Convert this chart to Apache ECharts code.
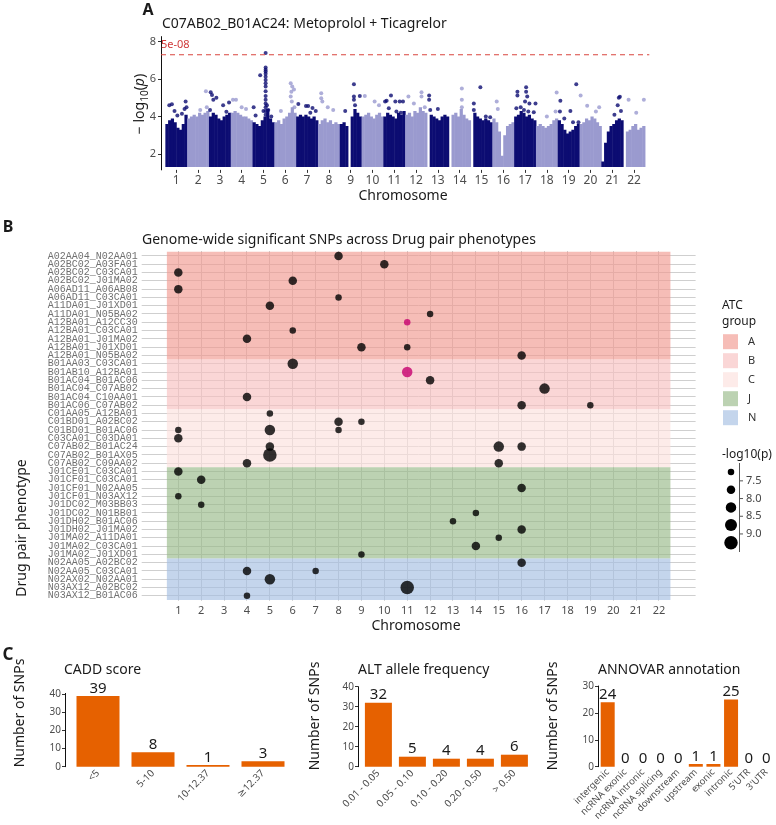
<!DOCTYPE html>
<html><head><meta charset="utf-8">
<script src="https://cdn.jsdelivr.net/npm/echarts@6/dist/echarts.min.js"></script>
<style>html,body{margin:0;padding:0;background:#fff}#c{width:776px;height:825px}</style>
</head><body><div id="c"></div>
<script>
// ================= DATA =================
// ---- Panel A: Manhattan plot (C07AB02_B01AC24) ----
const chromosomes = ['1','2','3','4','5','6','7','8','9','10','11','12','13','14','15','16','17','18','19','20','21','22'];
// top of the dense point cloud (-log10 p), 8 slices per chromosome (null = gap)
const manhattanEnvelope = [
 [3.6,3.8,3.9,3.7,3.4,3.3,3.6,4.1],
 [3.9,4.0,4.1,4.0,4.2,4.1,4.2,4.3],
 [4.0,4.2,4.1,3.9,3.8,4.0,4.1,4.2],
 [4.2,4.3,4.2,4.1,4.0,4.0,3.9,3.8],
 [3.7,3.6,3.5,3.8,4.0,4.4,3.9,3.7],
 [3.7,3.8,3.6,3.9,4.0,4.2,4.5,4.2],
 [4.0,4.1,4.0,4.1,4.0,3.9,4.0,3.8],
 [3.6,3.8,3.9,3.7,3.8,3.6,3.7,3.6],
 [3.6,3.7,3.5,null,4.0,4.4,4.2,4.0],
 [4.0,4.1,4.2,4.0,3.9,4.1,4.2,4.0],
 [4.0,4.2,4.1,4.0,3.9,4.2,4.1,4.3],
 [4.1,4.2,4.0,4.3,4.2,4.5,4.3,4.2],
 [null,4.1,4.0,3.9,3.8,4.0,4.1,4.0],
 [null,4.1,4.2,4.0,4.4,4.1,3.9,3.8],
 [null,4.2,4.0,3.9,3.8,3.9,3.8,3.7],
 [3.9,3.7,3.2,1.9,3.0,3.5,3.6,3.7],
 [4.0,4.1,4.3,4.2,4.0,4.1,3.9,3.8],
 [3.5,3.6,3.5,3.4,3.5,3.6,3.8,3.9],
 [3.8,3.6,3.3,3.1,3.2,3.3,3.5,3.6],
 [3.6,3.7,3.9,3.8,4.0,3.9,3.7,3.5],
 [1.6,2.6,3.2,3.5,3.6,3.8,3.9,3.8],
 [null,3.2,3.3,3.5,3.6,3.3,3.4,3.5]
];
// individual SNPs above the cloud: [chromosome, relative position, -log10 p]
const manhattanPeaks = [
 [1,0.18,4.6],[1,0.30,4.65],[1,0.42,4.3],[1,0.55,4.05],[1,0.76,4.15],[1,0.88,4.4],[1,0.93,4.8],[1,0.97,4.5],
 [2,0.6,4.35],[2,0.86,5.35],[2,0.9,4.5],
 [3,0.08,5.3],[3,0.14,5.15],[3,0.2,4.9],[3,0.34,5.0],[3,0.05,4.35],[3,0.65,4.6],[3,0.8,4.25],[3,0.92,4.75],
 [4,0.1,4.9],[4,0.24,4.9],[4,0.5,4.5],[4,0.7,4.4],
 [5,0.05,4.5],[5,0.14,4.05],[5,0.35,6.2],[5,0.5,4.3],
 [5,0.6,7.4],[5,0.6,6.62],[5,0.6,6.5],[5,0.6,6.4],[5,0.6,6.28],[5,0.6,6.12],[5,0.6,5.95],[5,0.6,5.78],[5,0.6,5.6],[5,0.6,5.35],[5,0.6,5.1],[5,0.6,4.9],[5,0.6,4.7],[5,0.6,4.5],[5,0.6,4.3],[5,0.6,4.1],
 [5,0.66,4.6],[5,0.72,4.35],[5,0.86,4.0],
 [6,0.75,5.78],[6,0.82,5.6],[6,0.9,5.45],[6,0.78,5.33],[6,0.75,5.07],[6,0.8,4.8],[6,0.92,4.5],[6,0.3,4.3],
 [7,0.1,4.67],[7,0.45,4.56],[7,0.55,4.56],[7,0.75,4.45],[7,0.65,4.2],[7,0.9,4.3],
 [8,0.15,5.24],[8,0.15,4.98],[8,0.2,4.8],[8,0.45,4.5],[8,0.7,4.35],
 [9,0.25,4.3],[9,0.65,5.72],[9,0.65,5.07],[9,0.65,4.9],[9,0.92,5.1],[9,0.7,4.6],
 [10,0.15,5.1],[10,0.6,4.8],[10,0.8,4.6],
 [11,0.15,4.84],[11,0.08,4.8],[11,0.35,5.12],[11,0.55,4.8],[11,0.75,4.8],[11,0.9,4.8],[11,0.25,4.44],[11,0.6,4.27],[11,0.8,4.2],
 [12,0.15,5.07],[12,0.75,5.3],[12,0.75,5.07],[12,0.9,4.5],[12,0.4,4.7],
 [13,0.1,5.12],[13,0.1,4.9],[13,0.15,4.35],[13,0.5,4.4],
 [14,0.6,5.5],[14,0.6,4.9],[14,0.6,4.5],
 [15,0.45,5.56],[15,0.15,4.7],[15,0.15,4.35],[15,0.7,4.0],[15,0.9,3.96],
 [16,0.2,4.8],[16,0.25,4.4],
 [17,0.15,5.33],[17,0.55,5.56],[17,0.55,5.33],[17,0.15,5.12],[17,0.6,5.07],[17,0.5,4.8],[17,0.3,4.5],[17,0.1,4.44],[17,0.7,4.7],[17,0.65,4.27],[17,0.45,4.35],[17,0.9,4.23],[17,0.98,4.7],
 [18,0.95,5.28],[18,0.9,4.27],[18,0.5,4.0],
 [19,0.12,4.85],[19,0.1,4.27],[19,0.3,3.9],[19,0.58,4.3],[19,0.85,5.72],[19,0.7,3.7],[19,0.95,3.7],
 [20,0.05,5.12],[20,0.35,4.57],[20,0.75,4.27],[20,0.9,4.5],
 [21,0.85,5.06],[21,0.8,5.0],[21,0.75,4.6],[21,0.6,4.1],[21,0.9,4.3],
 [22,0.25,4.9],[22,0.95,4.9],[22,0.6,4.2]
];
const manhattanBase = 1.3;          // -log10(0.05)
const gwThreshold = 7.3;            // -log10(5e-08)
const gwThresholdLabel = '5e-08';
const manhattanTitle = 'C07AB02_B01AC24: Metoprolol + Ticagrelor';
const manhattanYTicks = [2,4,6,8];

// ---- Panel B: genome-wide significant SNPs ----
const phenotypes = [
 'A02AA04_N02AA01','A02BC02_A03FA01','A02BC02_C03CA01','A02BC02_J01MA02','A06AD11_A06AB08','A06AD11_C03CA01',
 'A11DA01_J01XD01','A11DA01_N05BA02','A12BA01_A12CC30','A12BA01_C03CA01','A12BA01_J01MA02','A12BA01_J01XD01',
 'A12BA01_N05BA02','B01AA03_C03CA01','B01AB10_A12BA01','B01AC04_B01AC06','B01AC04_C07AB02','B01AC04_C10AA01',
 'B01AC06_C07AB02','C01AA05_A12BA01','C01BD01_A02BC02','C01BD01_B01AC06','C03CA01_C03DA01','C07AB02_B01AC24',
 'C07AB02_B01AX05','C07AB02_C09AA02','J01CE01_C03CA01','J01CF01_C03CA01','J01CF01_N02AA05','J01CF01_N03AX12',
 'J01DC02_M03BB03','J01DC02_N01BB01','J01DH02_B01AC06','J01DH02_J01MA02','J01MA02_A11DA01','J01MA02_C03CA01',
 'J01MA02_J01XD01','N02AA05_A02BC02','N02AA05_C03CA01','N02AX02_N02AA01','N03AX12_A02BC02','N03AX12_B01AC06'
];
const atcGroups = ['A','B','C','J','N'];
const snpRow =   [1,2,3,4,5,6,7,8,9,10,11,12,12,13,14,15,16,17,18,19,19,20,21,21,22,22,22,23,24,24,24,25,26,26,27,28,29,30,31,32,33,34,35,36,37,38,39,39,40,41,42];
const snpChrom = [8,10,1,6,1,8,5,12,11,6,4,9,11,16,6,11,12,17,4,16,19,5,8,9,1,5,8,1,5,15,16,5,4,15,1,2,16,1,2,14,13,16,15,14,9,16,4,7,5,11,4];
const snpLogP =  [7.82,7.76,7.85,7.79,7.83,7.38,7.8,7.42,7.45,7.4, 7.78,7.84,7.36,7.9,8.32,8.21,7.77,8.38,7.81,7.86,
                  7.39,7.41,7.92,7.37,7.43,8.27,7.35,7.83,7.74,8.35, 7.8,9.35,7.79,7.88,7.82,7.85,7.8,7.44,7.4,7.38,
                  7.42,7.87,7.39,7.83,7.41,7.79,7.84,7.36,8.3,9.42, 7.4];
const snpHighlight = [0,0,0,0,0,0,0,0,1,0, 0,0,0,0,0,1,0,0,0,0, 0,0,0,0,0,0,0,0,0,0, 0,0,0,0,0,0,0,0,0,0, 0,0,0,0,0,0,0,0,0,0, 0];
const sizeBreaks = [7.5, 8.0, 8.5, 9.0];

// ---- Panel C: SNP annotation summaries ----
const caddCats = ['<5','5-10','10-12.37','\u226512.37'];
const caddCounts = [39,8,1,3];
const afCats = ['0.01 - 0.05','0.05 - 0.10','0.10 - 0.20','0.20 - 0.50','> 0.50'];
const afCounts = [32,5,4,4,6];
const annoCats = ['intergenic','ncRNA exonic','ncRNA intronic','ncRNA splicing','downstream','upstream','exonic','intronic',"5'UTR","3'UTR"];
const annoCounts = [24,0,0,0,0,1,1,25,0,0];

// ================= STYLE =================
const F = "'Noto Sans', 'DejaVu Sans', sans-serif";
const MONO = "'Liberation Mono', 'DejaVu Sans Mono', monospace";
const navy = '#0c0c72', lavender = '#9a9acf';
const bandFill = ['rgba(241,154,144,0.65)','rgba(247,192,192,0.65)','rgba(252,224,221,0.65)','rgba(152,186,137,0.65)','rgba(164,190,226,0.65)'];
const gridGray = '#cfcfcf';
const orange = '#E66100';
const magenta = '#C7006F';
const threshColor = '#d9463f';
const sizeBinDiam = [6.5, 8.5, 10.5, 12, 13.5];
function snpSize(v){ let b = 0; sizeBreaks.forEach(br => { if (v >= br) b++; }); return sizeBinDiam[b]; }
const NB = 8;
const bX = [-0.6, 23.6], bY = [0.4, 42.6];

// ================= DERIVED =================
const envData = [];
manhattanEnvelope.forEach((arr, ci) => arr.forEach((v, bi) => { if (v !== null) envData.push([ci + 1, bi, v]); }));
const peakDark = manhattanPeaks.filter(p => p[0] % 2 === 1).map(p => [p[0] - 0.5 + p[1], p[2]]);
const peakLight = manhattanPeaks.filter(p => p[0] % 2 === 0).map(p => [p[0] - 0.5 + p[1], p[2]]);
const groupRows = atcGroups.map(g => {
  const idx = []; phenotypes.forEach((p, i) => { if (p[0] === g) idx.push(i + 1); });
  return [Math.min(...idx), Math.max(...idx)];
});
const snpBlack = [], snpMag = [];
snpRow.forEach((r, i) => { (snpHighlight[i] ? snpMag : snpBlack).push([snpChrom[i], r, snpLogP[i]]); });
const gridItems = [];
phenotypes.forEach((p, i) => gridItems.push([0, i + 1]));
chromosomes.forEach((c, i) => gridItems.push([1, i + 1]));
const chrIdx = chromosomes.map((c, i) => i + 1);
// row label positions, padded with blank labels at the axis ends
const rowLabelValues = [bY[0]].concat(phenotypes.map((p, i) => i + 1), [bY[1]]);

function crisp(v){ return Math.round(v - 0.5) + 0.5; }

const axisLabelBase = {fontFamily: F, color: '#4d4d4d', showMinLabel: true, showMaxLabel: true, hideOverlap: false};

const option = {
  animation: false,
  backgroundColor: '#fff',
  grid: [
    {left: 161, top: 36.6, width: 488.3, height: 133.3},
    {left: 141.7, top: 251, width: 553.9, height: 349.8},
    {left: 65, top: 693.4, width: 231, height: 73.3},
    {left: 358, top: 686.7, width: 176.8, height: 80},
    {left: 598, top: 686, width: 181.8, height: 80.7}
  ],
  xAxis: [
    {gridIndex: 0, type: 'value', min: 0.3, max: 22.7,
     axisLine: {show: false}, splitLine: {show: false},
     axisTick: {show: true, length: 3, customValues: chrIdx, lineStyle: {color: '#333'}},
     axisLabel: Object.assign({customValues: chrIdx, formatter: v => chromosomes[v - 1], fontSize: 12, margin: 5}, axisLabelBase)},
    {gridIndex: 1, type: 'value', min: bX[0], max: bX[1],
     axisLine: {show: false}, splitLine: {show: false}, axisTick: {show: false},
     axisLabel: Object.assign({customValues: chrIdx, formatter: v => chromosomes[v - 1], fontSize: 11, margin: 5}, axisLabelBase)},
    {gridIndex: 2, type: 'value', min: 0.4, max: 4.6,
     axisLine: {show: false}, splitLine: {show: false}, axisTick: {show: false},
     axisLabel: Object.assign({customValues: [1,2,3,4], formatter: v => caddCats[v - 1], fontSize: 10, rotate: 45, margin: 5}, axisLabelBase)},
    {gridIndex: 3, type: 'value', min: 0.4, max: 5.6,
     axisLine: {show: false}, splitLine: {show: false}, axisTick: {show: false},
     axisLabel: Object.assign({customValues: [1,2,3,4,5], formatter: v => afCats[v - 1], fontSize: 10, rotate: 45, margin: 5}, axisLabelBase)},
    {gridIndex: 4, type: 'value', min: 0.45, max: 10.55,
     axisLine: {show: false}, splitLine: {show: false}, axisTick: {show: false},
     axisLabel: Object.assign({customValues: [1,2,3,4,5,6,7,8,9,10], formatter: v => annoCats[v - 1], fontSize: 9.5, rotate: 45, margin: 4}, axisLabelBase)}
  ],
  yAxis: [
    {gridIndex: 0, type: 'value', min: 1.15, max: 8.27,
     axisLine: {show: true, lineStyle: {color: '#111', width: 1}}, splitLine: {show: false},
     axisTick: {show: true, length: 3, customValues: manhattanYTicks, lineStyle: {color: '#333'}},
     axisLabel: Object.assign({customValues: manhattanYTicks, fontSize: 11, margin: 5}, axisLabelBase)},
    {gridIndex: 1, type: 'value', min: bY[0], max: bY[1], inverse: true,
     axisLine: {show: false}, splitLine: {show: false}, axisTick: {show: false},
     axisLabel: {customValues: rowLabelValues, formatter: v => (Number.isInteger(v) ? phenotypes[v - 1] : ''),
                 fontFamily: MONO, fontSize: 10, color: '#707070', margin: 4,
                 showMinLabel: false, showMaxLabel: false, hideOverlap: false}},
    {gridIndex: 2, type: 'value', min: 0, max: 40.5,
     axisLine: {show: true, lineStyle: {color: '#111'}}, splitLine: {show: false},
     axisTick: {show: true, length: 3, customValues: [0,10,20,30,40], lineStyle: {color: '#333'}},
     axisLabel: Object.assign({customValues: [0,10,20,30,40], fontSize: 10, margin: 4}, axisLabelBase)},
    {gridIndex: 3, type: 'value', min: 0, max: 40,
     axisLine: {show: true, lineStyle: {color: '#111'}}, splitLine: {show: false},
     axisTick: {show: true, length: 3, customValues: [0,10,20,30,40], lineStyle: {color: '#333'}},
     axisLabel: Object.assign({customValues: [0,10,20,30,40], fontSize: 10, margin: 4}, axisLabelBase)},
    {gridIndex: 4, type: 'value', min: 0, max: 30,
     axisLine: {show: true, lineStyle: {color: '#111'}}, splitLine: {show: false},
     axisTick: {show: true, length: 3, customValues: [0,10,20,30], lineStyle: {color: '#333'}},
     axisLabel: Object.assign({customValues: [0,10,20,30], fontSize: 10, margin: 4}, axisLabelBase)}
  ],
  series: [
    // ---- Panel A ----
    {type: 'custom', xAxisIndex: 0, yAxisIndex: 0, encode: {x: 0, y: 2}, data: envData, clip: true, z: 2,
     renderItem: (params, api) => {
       const c = api.value(0), b = api.value(1), top = api.value(2);
       const x0 = c - 0.5 + b / NB, x1 = x0 + 1 / NB;
       const p0 = api.coord([x0, top]), p1 = api.coord([x1, manhattanBase]);
       return {type: 'rect', shape: {x: p0[0], y: p0[1], width: p1[0] - p0[0] + 0.5, height: p1[1] - p0[1]},
               style: {fill: c % 2 ? navy : lavender}};
     }},
    {type: 'scatter', xAxisIndex: 0, yAxisIndex: 0, data: peakLight, symbolSize: 4, itemStyle: {color: lavender}, z: 3},
    {type: 'scatter', xAxisIndex: 0, yAxisIndex: 0, data: peakDark, symbolSize: 4, itemStyle: {color: navy}, z: 3},
    {type: 'line', xAxisIndex: 0, yAxisIndex: 0, data: [[0.3, gwThreshold], [22.7, gwThreshold]], symbol: 'none', z: 4, silent: true,
     lineStyle: {type: [5, 4], color: threshColor, width: 1.2}, itemStyle: {color: threshColor},
     endLabel: {show: false},
     markPoint: {silent: true, symbol: 'circle', symbolSize: 0,
       label: {show: true, formatter: gwThresholdLabel, color: '#d03a3a', fontFamily: F, fontSize: 11, position: 'right', distance: 0, offset: [0, -10]},
       data: [{coord: [0.3, gwThreshold]}]}},
    // ---- Panel B ----
    {type: 'custom', xAxisIndex: 1, yAxisIndex: 1, encode: {x: 0, y: 1}, data: gridItems, clip: false, z: 1, silent: true,
     renderItem: (params, api) => {
       const kind = api.value(0), v = api.value(1);
       let p0, p1;
       if (kind === 0) { p0 = api.coord([bX[0], v]); p1 = api.coord([bX[1], v]); const y = crisp(p0[1]);
         return {type: 'line', shape: {x1: p0[0], y1: y, x2: p1[0], y2: y}, style: {stroke: gridGray, lineWidth: 1}}; }
       p0 = api.coord([v, bY[0]]); p1 = api.coord([v, bY[1]]); const x = crisp(p0[0]);
       return {type: 'line', shape: {x1: x, y1: p0[1], x2: x, y2: p1[1]}, style: {stroke: gridGray, lineWidth: 1}};
     }},
    {type: 'custom', xAxisIndex: 1, yAxisIndex: 1, encode: {x: 0, y: 1}, data: atcGroups.map((g, i) => [i + 1, groupRows[i][0]]), clip: false, z: 2, silent: true,
     renderItem: (params, api) => {
       const gi = api.value(0) - 1, rr = groupRows[gi];
       const p0 = api.coord([0.5, rr[0] - 0.5]), p1 = api.coord([chromosomes.length + 0.5, rr[1] + 0.5]);
       return {type: 'rect', shape: {x: p0[0], y: p0[1], width: p1[0] - p0[0], height: p1[1] - p0[1]}, style: {fill: bandFill[gi]}};
     }},
    {type: 'scatter', xAxisIndex: 1, yAxisIndex: 1, data: snpBlack, symbolSize: d => snpSize(d[2]), itemStyle: {color: '#000'}, z: 4},
    {type: 'scatter', xAxisIndex: 1, yAxisIndex: 1, data: snpMag, symbolSize: d => snpSize(d[2]), itemStyle: {color: magenta}, z: 4},
    // ---- Panel C ----
    {type: 'bar', xAxisIndex: 2, yAxisIndex: 2, data: caddCounts.map((v, i) => [i + 1, v]), barWidth: 43, itemStyle: {color: orange},
     label: {show: true, position: 'top', distance: 0, formatter: p => p.value[1], fontFamily: F, fontSize: 15, color: '#1a1a1a'}},
    {type: 'bar', xAxisIndex: 3, yAxisIndex: 3, data: afCounts.map((v, i) => [i + 1, v]), barWidth: 27, itemStyle: {color: orange},
     label: {show: true, position: 'top', distance: 0, formatter: p => p.value[1], fontFamily: F, fontSize: 15, color: '#1a1a1a'}},
    {type: 'bar', xAxisIndex: 4, yAxisIndex: 4, data: annoCounts.map((v, i) => [i + 1, v]), barWidth: 14, itemStyle: {color: orange},
     label: {show: true, position: 'top', distance: 0, formatter: p => p.value[1], fontFamily: F, fontSize: 15, color: '#1a1a1a'}}
  ],
  graphic: []
};

// ---- texts & legends ----
function txt(x, y, text, o){
  o = o || {};
  return {type: 'text', x: x, y: y, rotation: o.rot || 0, silent: true, z: 10,
    style: {text: text, fontFamily: o.ff || F, fontSize: o.fs || 14, fontWeight: o.fw || 'normal', fill: o.c || '#1a1a1a',
            align: o.al || 'left', textAlign: o.al || 'left', verticalAlign: 'middle', textVerticalAlign: 'middle'}};
}
const G = option.graphic;
G.push(txt(148, 10, 'A', {fw: 'bold', fs: 16, al: 'center'}));
G.push(txt(162, 24, manhattanTitle, {fs: 14}));
G.push(txt(403, 196, 'Chromosome', {fs: 14, al: 'center'}));
G.push({type: 'text', x: 140, y: 104, rotation: Math.PI / 2, silent: true, z: 10,
  style: {text: '{n|\u2212 log}{s|10}{n|(}{i|p}{n|)}', align: 'center', textAlign: 'center', verticalAlign: 'middle', textVerticalAlign: 'middle',
    rich: {n: {fontFamily: F, fontSize: 14, fill: '#1a1a1a', color: '#1a1a1a', lineHeight: 20},
           s: {fontFamily: F, fontSize: 10, fill: '#1a1a1a', color: '#1a1a1a', lineHeight: 20, verticalAlign: 'bottom'},
           i: {fontFamily: F, fontSize: 14, fontStyle: 'italic', fill: '#1a1a1a', color: '#1a1a1a', lineHeight: 20}}}});
G.push(txt(8, 227, 'B', {fw: 'bold', fs: 16, al: 'center'}));
G.push(txt(142, 240, 'Genome-wide significant SNPs across Drug pair phenotypes', {fs: 14}));
G.push(txt(416, 626, 'Chromosome', {fs: 14, al: 'center'}));
G.push(txt(22, 528, 'Drug pair phenotype', {fs: 14, al: 'center', rot: Math.PI / 2}));
// ATC legend
G.push(txt(722, 306, 'ATC', {fs: 12}));
G.push(txt(722, 322, 'group', {fs: 12}));
atcGroups.forEach((g, i) => {
  const cy = 341.7 + i * 19;
  G.push({type: 'rect', shape: {x: 723, y: cy - 7.5, width: 15, height: 15}, style: {fill: bandFill[i]}, silent: true, z: 10});
  G.push(txt(748, cy, g, {fs: 11, c: '#333'}));
});
// size legend (binned)
G.push(txt(722, 455, '-log10(p)', {fs: 12}));
const legVals = [sizeBreaks[0] - 0.25].concat(sizeBreaks.map(b => b + 0.25));
legVals.forEach((v, i) => {
  G.push({type: 'circle', shape: {cx: 731, cy: 472 + i * 17.7, r: snpSize(v) / 2}, style: {fill: '#000'}, silent: true, z: 10});
});
G.push({type: 'line', shape: {x1: 739.5, y1: 463, x2: 739.5, y2: 552}, style: {stroke: '#555', lineWidth: 1}, silent: true, z: 10});
sizeBreaks.forEach((b, i) => {
  const cy = 472 + (i + 0.5) * 17.7;
  G.push({type: 'line', shape: {x1: 739.5, y1: cy, x2: 743, y2: cy}, style: {stroke: '#555', lineWidth: 1}, silent: true, z: 10});
  G.push(txt(746, cy, b.toFixed(1), {fs: 11, c: '#444'}));
});
// Panel C texts
G.push(txt(8, 655, 'C', {fw: 'bold', fs: 17, al: 'center'}));
G.push(txt(64, 670, 'CADD score', {fs: 14}));
G.push(txt(358, 670, 'ALT allele frequency', {fs: 14}));
G.push(txt(598, 670, 'ANNOVAR annotation', {fs: 14}));
G.push(txt(20, 713, 'Number of SNPs', {fs: 14, al: 'center', rot: Math.PI / 2}));
G.push(txt(315, 716, 'Number of SNPs', {fs: 14, al: 'center', rot: Math.PI / 2}));
G.push(txt(553, 716, 'Number of SNPs', {fs: 14, al: 'center', rot: Math.PI / 2}));

const chart = echarts.init(document.getElementById('c'), null, {renderer: 'canvas'});
chart.setOption(option);
</script></body></html>
